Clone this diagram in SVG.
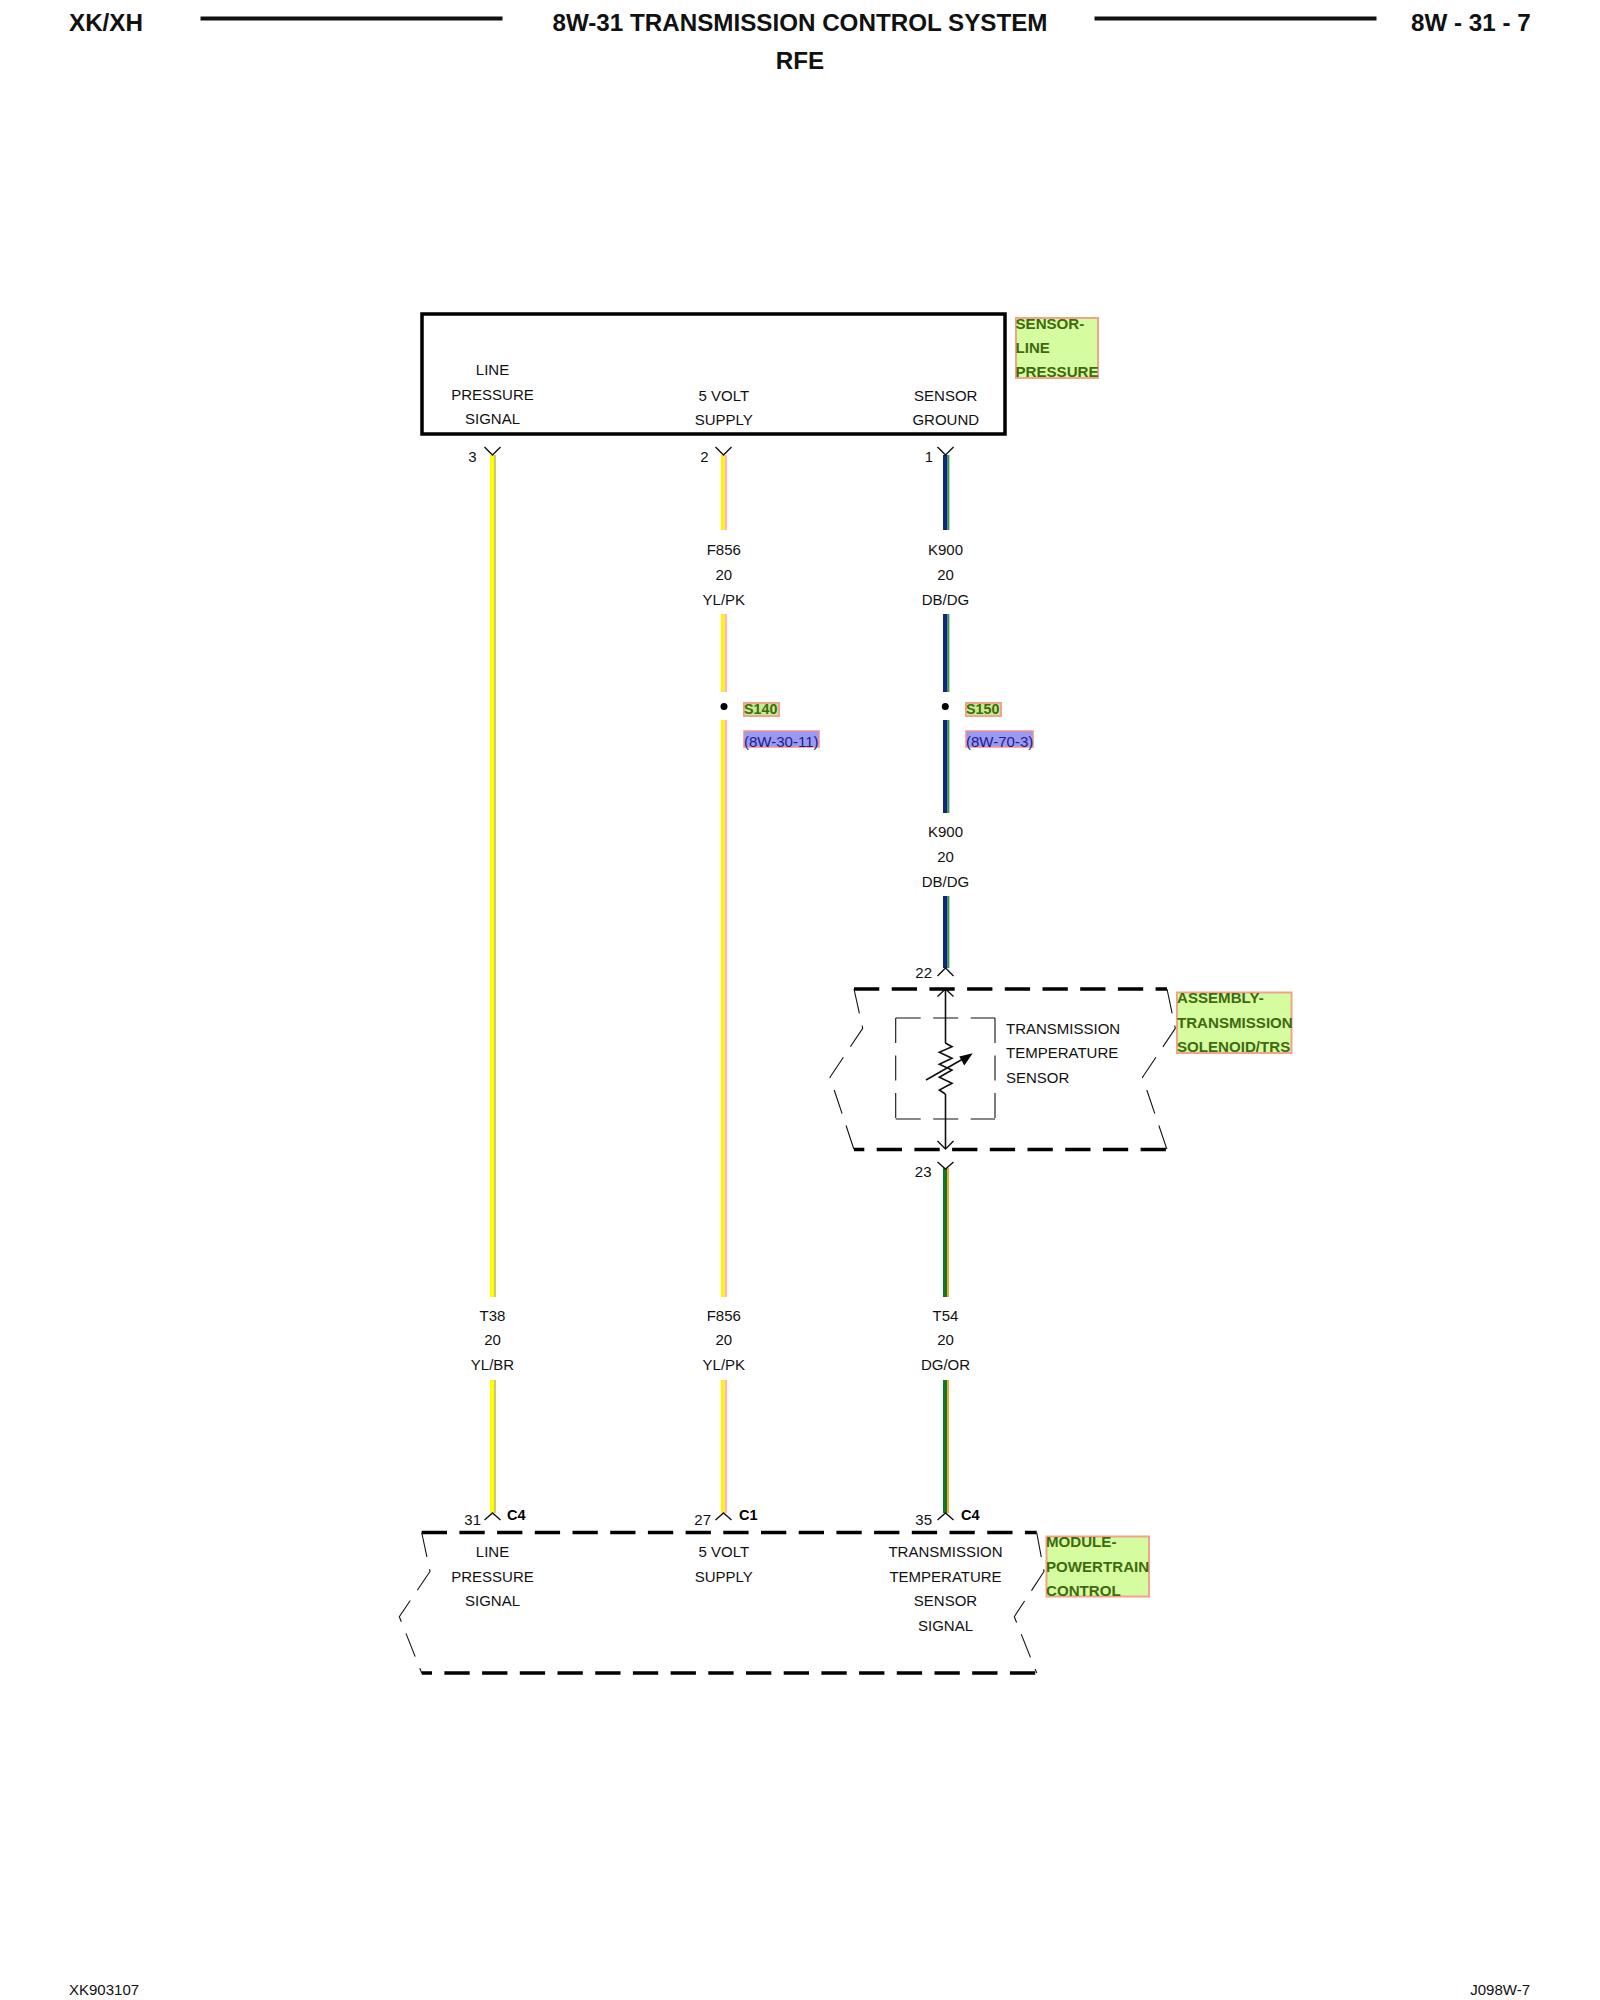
<svg xmlns="http://www.w3.org/2000/svg" width="1600" height="2000" viewBox="0 0 1600 2000">
<style>
text{font-family:"Liberation Sans",Arial,sans-serif;font-size:15px;fill:#111}
.c{text-anchor:middle}
.r{text-anchor:end}
.h{font-size:24.200px;font-weight:bold;fill:#111}
.b{font-weight:bold;fill:#000;font-size:14.500px}
.g{font-weight:bold;fill:#3f6a10;font-size:15.100px}
.lb{fill:#d6fca0;stroke:#f2a488;stroke-width:2}
.lb2{fill:#c4ec90;stroke:#f2a488;stroke-width:2}
.lk{fill:#9a9af0;stroke:#f09090;stroke-width:1.500}
.bl{fill:#1c1c90}
.rule{stroke:#111;stroke-width:4;fill:none}
.thick{stroke:#000;stroke-width:3.400;fill:none;stroke-dasharray:25.300 12.400}
.thin{stroke:#111;stroke-width:1.100;fill:none;stroke-dasharray:25 12.500}
.y{stroke:#111;stroke-width:1.400;fill:none}
.ln{stroke:#111;stroke-width:1.600;fill:none}
</style>
<g id="header">
<text class="h" x="69" y="31">XK/XH</text>
<path class="rule" d="M200.500 18.500H502.500M1094.500 18.500H1376.500"/>
<text class="h c" x="800" y="31">8W-31 TRANSMISSION CONTROL SYSTEM</text>
<text class="h c" x="800" y="69">RFE</text>
<text class="h" x="1411" y="31">8W - 31 - 7</text>
</g>
<g id="connectors">
<g id="wire-t38">
<rect x="490" y="455" width="4.500" height="842" fill="#ffff00"/>
<rect x="490" y="1380" width="4.500" height="133" fill="#ffff00"/>
<path d="M495 455V1297M495 1380V1513" stroke="#9a9020" stroke-width="1" fill="none"/>
</g>
<g id="wire-f856">
<path d="M723 455V530M723 614V692M723 720V1297M723 1380V1513" stroke="#ffee20" stroke-width="4.400" fill="none"/>
<path d="M726 455V530M726 614V692M726 720V1297M726 1380V1513" stroke="#ffb4c0" stroke-width="2" fill="none"/>
</g>
<g id="wire-k900">
<path d="M945.300 455V530M945.300 614V692M945.300 720V813M945.300 896V968" stroke="#0c2a78" stroke-width="4.600" fill="none"/>
<path d="M948.500 455V530M948.500 614V692M948.500 720V813M948.500 896V968" stroke="#3a9a50" stroke-width="1.800" fill="none"/>
</g>
<g id="wire-t54">
<path d="M945 1168V1297M945 1380V1513" stroke="#0e7a28" stroke-width="4" fill="none"/>
<path d="M948 1168V1297M948 1380V1513" stroke="#f8a830" stroke-width="2" fill="none"/>
</g>
<path class="ln" d="M945.500 989V1043M945.500 1094V1148"/>
<path class="y" d="M484.500 447L492.500 455L500.500 447M715.500 447L723.500 455L731.500 447M937.500 447L945.500 455L953.500 447"/>
<path class="y" d="M937.500 976L945.500 968L953.500 976M937.500 996.500L945.500 989L953.500 996.500M937.500 1141L945.500 1149L953.500 1141M937.500 1162L945.500 1169L953.500 1162"/>
<path class="y" d="M484.500 1520L492.500 1513L500.500 1520M715.500 1520L723.500 1513L731.500 1520M937.500 1520L945.500 1513L953.500 1520"/>
</g>
<g id="sensor-line-pressure">
<rect x="422" y="314" width="583" height="120" fill="none" stroke="#000" stroke-width="3.500"/>
<text class="c" x="492.500" y="375">LINE</text>
<text class="c" x="492.500" y="400">PRESSURE</text>
<text class="c" x="492.500" y="424">SIGNAL</text>
<text class="c" x="723.800" y="401">5 VOLT</text>
<text class="c" x="723.800" y="425">SUPPLY</text>
<text class="c" x="945.800" y="401">SENSOR</text>
<text class="c" x="945.800" y="425">GROUND</text>
<rect class="lb" x="1016" y="318" width="82" height="60"/>
<text class="g" x="1015.500" y="329">SENSOR-</text>
<text class="g" x="1015.500" y="353">LINE</text>
<text class="g" x="1015.500" y="377">PRESSURE</text>
<text class="c" x="472.500" y="462">3</text>
<text class="c" x="704.500" y="462">2</text>
<text class="c" x="929" y="462">1</text>
</g>
<g id="wire-labels">
<text class="c" x="723.800" y="555">F856</text>
<text class="c" x="723.800" y="580">20</text>
<text class="c" x="723.800" y="605">YL/PK</text>
<text class="c" x="945.500" y="555">K900</text>
<text class="c" x="945.500" y="580">20</text>
<text class="c" x="945.500" y="605">DB/DG</text>
<text class="c" x="945.500" y="837">K900</text>
<text class="c" x="945.500" y="862">20</text>
<text class="c" x="945.500" y="887">DB/DG</text>
<text class="c" x="492.500" y="1320.500">T38</text>
<text class="c" x="492.500" y="1345">20</text>
<text class="c" x="492.500" y="1369.500">YL/BR</text>
<text class="c" x="723.800" y="1320.500">F856</text>
<text class="c" x="723.800" y="1345">20</text>
<text class="c" x="723.800" y="1369.500">YL/PK</text>
<text class="c" x="945.500" y="1320.500">T54</text>
<text class="c" x="945.500" y="1345">20</text>
<text class="c" x="945.500" y="1369.500">DG/OR</text>
</g>
<g id="splice-s140">
<circle cx="724" cy="706.500" r="3.500"/>
<rect class="lb2" x="744" y="703" width="35" height="13"/>
<text class="g" x="744" y="714" style="font-size:14.300px">S140</text>
<rect class="lk" x="744" y="731" width="75" height="16"/>
<text class="bl" x="744" y="746.500">(8W-30-11)</text>
</g>
<g id="splice-s150">
<circle cx="945.300" cy="706.500" r="3.500"/>
<rect class="lb2" x="966" y="703" width="35" height="13"/>
<text class="g" x="966" y="714" style="font-size:14.300px">S150</text>
<rect class="lk" x="966" y="731" width="67" height="16"/>
<text class="bl" x="966" y="746.500">(8W-70-3)</text>
</g>
<g id="assembly-transmission-solenoid-trs">
<path class="thick" d="M854 989H1167"/>
<path class="thick" style="stroke-dashoffset:15" d="M854 1149.500H1167"/>
<path class="thin" d="M854 989L862.700 1028.300L830 1077.300L854 1149.500"/>
<path class="thin" d="M1167 989L1175.300 1028.300L1142.500 1077.300L1167 1149.500"/>
<path class="thin" d="M895.700 1018H995M895.700 1119H995M895.700 1018V1119M995 1018V1119"/>
<path class="ln" d="M945.300 1043L952 1046.700L939.300 1052.300L952 1058.300L939.300 1064.300L952 1070L939.300 1077.300L952 1083.300L939.300 1090L945.300 1094"/>
<path class="ln" d="M926 1080L962 1059.500"/>
<polygon points="972.700,1053.300 959.300,1056.500 964.300,1065.500" fill="#000"/>
<text x="1006" y="1034">TRANSMISSION</text>
<text x="1006" y="1058">TEMPERATURE</text>
<text x="1006" y="1083">SENSOR</text>
<text class="r" x="932" y="978">22</text>
<text class="r" x="931.500" y="1177">23</text>
<rect class="lb" x="1177" y="992.500" width="114.500" height="60.500"/>
<text class="g" x="1177" y="1003">ASSEMBLY-</text>
<text class="g" x="1177" y="1028">TRANSMISSION</text>
<text class="g" x="1177" y="1052">SOLENOID/TRS</text>
</g>
<g id="module-powertrain-control">
<path class="thick" d="M421.700 1532.500H1036.700"/>
<path class="thick" style="stroke-dashoffset:15" d="M421.700 1673H1036.700"/>
<path class="thin" d="M421.700 1532.500L430 1571.500L399.300 1616.700L421.700 1673"/>
<path class="thin" d="M1036.700 1532.500L1044 1571.500L1014.300 1616.700L1036.700 1673"/>
<text class="c" x="492.500" y="1557">LINE</text>
<text class="c" x="492.500" y="1582">PRESSURE</text>
<text class="c" x="492.500" y="1606">SIGNAL</text>
<text class="c" x="723.800" y="1557">5 VOLT</text>
<text class="c" x="723.800" y="1582">SUPPLY</text>
<text class="c" x="945.500" y="1557">TRANSMISSION</text>
<text class="c" x="945.500" y="1582">TEMPERATURE</text>
<text class="c" x="945.500" y="1606">SENSOR</text>
<text class="c" x="945.500" y="1631">SIGNAL</text>
<text class="r" x="481" y="1525">31</text>
<text class="r" x="711" y="1525">27</text>
<text class="r" x="932" y="1525">35</text>
<text class="b" x="507" y="1520">C4</text>
<text class="b" x="739" y="1520">C1</text>
<text class="b" x="961" y="1520">C4</text>
<rect class="lb" x="1046.500" y="1536.500" width="102.500" height="60"/>
<text class="g" x="1046" y="1547">MODULE-</text>
<text class="g" x="1046" y="1572">POWERTRAIN</text>
<text class="g" x="1046" y="1596">CONTROL</text>
</g>
<g id="footer">
<text x="69" y="1995">XK903107</text>
<text class="r" x="1530" y="1995">J098W-7</text>
</g>
</svg>
